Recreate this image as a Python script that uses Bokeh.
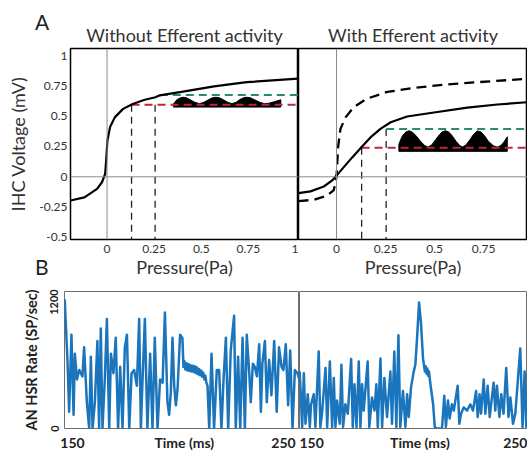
from bokeh.plotting import figure
from bokeh.models import Range1d, FixedTicker, CustomJSTickFormatter, Span, Div
from bokeh.layouts import row, column
from bokeh.embed import file_html
from bokeh.resources import INLINE

# ---------------- Panel A data ----------------
a_xticks = [0, 0.25, 0.5, 0.75, 1]
a_yticks = [-0.5, -0.25, 0, 0.25, 0.5, 0.75, 1]

# Without efferent activity
left_curve_x = [-0.194, -0.12, -0.053, -0.027, -0.01, -0.005, 0.002, 0.016, 0.041, 0.085, 0.136, 0.2, 0.257, 0.28, 0.395, 0.568, 0.741, 1.016]
left_curve_y = [-0.195, -0.17, -0.10, -0.045, 0.025, 0.13, 0.30, 0.41, 0.49, 0.56, 0.60, 0.635, 0.656, 0.672, 0.70, 0.745, 0.78, 0.81]
left_red_level = 0.595
left_teal_level = 0.675
left_red_start = 0.13
left_teal_start = 0.28
left_probe_x = [0.13, 0.255]
left_probe_top = [0.595, 0.595]
left_wave_x = [0.352, 0.37, 0.39, 0.404, 0.42, 0.44, 0.465, 0.49, 0.515, 0.54, 0.56, 0.577, 0.595, 0.615, 0.64, 0.663,
               0.685, 0.705, 0.725, 0.741, 0.76, 0.78, 0.81, 0.836, 0.86, 0.89, 0.922]
left_wave_top = [0.60, 0.635, 0.652, 0.656, 0.652, 0.637, 0.615, 0.603, 0.615, 0.637, 0.652, 0.656, 0.652, 0.637, 0.615, 0.603,
                 0.615, 0.637, 0.652, 0.656, 0.652, 0.637, 0.615, 0.603, 0.607, 0.62, 0.635]
left_wave_base = 0.575

# With efferent activity
right_solid_x = [-0.194, -0.133, -0.065, -0.022, 0.0, 0.037, 0.08, 0.128, 0.173, 0.224, 0.276, 0.36, 0.497, 0.667, 0.82, 0.974]
right_solid_y = [-0.135, -0.12, -0.08, -0.03, 0.01, 0.08, 0.16, 0.245, 0.325, 0.395, 0.45, 0.497, 0.53, 0.57, 0.596, 0.615]
right_dash_x = [-0.194, -0.116, -0.048, -0.014, 0.0, 0.008, 0.02, 0.046, 0.088, 0.156, 0.259, 0.394, 0.547, 0.718, 0.974]
right_dash_y = [-0.20, -0.19, -0.155, -0.11, 0.0, 0.245, 0.395, 0.49, 0.575, 0.645, 0.70, 0.733, 0.76, 0.78, 0.808]
right_red_level = 0.24
right_teal_level = 0.395
right_red_start = 0.128
right_teal_start = 0.253
right_probe_x = [0.128, 0.253]
right_probe_top = [0.24, 0.395]
right_wave_x = [0.318, 0.335, 0.352, 0.369, 0.385, 0.405, 0.43, 0.45, 0.466, 0.485, 0.505, 0.525, 0.54, 0.556, 0.572, 0.59,
                0.61, 0.627, 0.641, 0.66, 0.68, 0.70, 0.718, 0.735, 0.755, 0.775, 0.80, 0.82, 0.84, 0.855, 0.871]
right_wave_top = [0.27, 0.335, 0.368, 0.38, 0.37, 0.34, 0.29, 0.258, 0.245, 0.262, 0.305, 0.348, 0.372, 0.38, 0.37, 0.338,
                  0.292, 0.26, 0.245, 0.262, 0.305, 0.352, 0.378, 0.372, 0.338, 0.292, 0.256, 0.245, 0.26, 0.29, 0.33]
right_wave_base = 0.21

# ---------------- Panel B data ----------------
b_left_t = [146.3, 147.6, 148.4, 149.5, 150.5, 151.1, 152.1, 153.2, 154.7, 155.5, 156.8, 157.9, 158.7, 159.5, 160.6, 161.8,
            162.6, 163.4, 164.2, 165.3, 166.3, 167.4, 168.2, 169.4, 170.5, 171.6, 172.6, 173.7, 174.8, 175.8, 176.9, 178.0,
            179.2, 180.5, 181.6, 182.4, 183.2, 184.3, 185.5, 186.8, 187.9, 189.0, 190.3, 191.5, 192.7, 193.8, 195.0, 195.8,
            196.6, 197.4, 198.2, 199.0, 199.8, 201.0, 202.1, 202.6, 203.0, 203.5, 204.0, 204.5, 205.0, 205.5, 206.0, 206.5,
            207.0, 207.5, 208.0, 208.5, 209.0, 209.5, 210.0, 210.5, 211.0, 211.5, 212.0, 212.5, 213.0, 213.5, 214.0, 214.8,
            215.9, 217.1, 218.4, 219.5, 220.6, 221.6, 222.7, 223.8, 225.0, 226.6, 227.4, 228.5, 229.5, 230.6, 231.7, 232.6,
            233.7, 234.5, 235.5, 236.4, 237.4, 238.5, 239.3, 240.0, 241.2, 242.1, 243.2, 244.3, 245.6, 246.8, 247.9, 249.1,
            250.0, 251.1, 252.2, 253.2, 254.3, 255.4, 256.6, 257.6]
b_left_rate = [1225, 650, 160, 890, 130, 710, 465, 555, 495, 770, 250, 0, 680, 0, 250, 830,
               0, 950, 0, 465, 1040, 0, 710, 525, 860, 0, 585, 0, 770, 890, 0, 525,
               555, 405, 1040, 0, 465, 1040, 0, 710, 0, 860, 0, 465, 435, 1100, 250, 130,
               345, 860, 405, 220, 375, 890, 860, 585, 640, 560, 620, 550, 610, 545, 600, 540,
               595, 535, 590, 525, 580, 515, 565, 505, 550, 490, 530, 465, 500, 430, 405, 0,
               710, 0, 555, 555, 0, 465, 860, 0, 740, 1070, 0, 680, 0, 860, 0, 890,
               555, 250, 615, 585, 495, 800, 160, 615, 830, 250, 650, 315, 830, 160, 770, 585,
               555, 800, 220, 740, 0, 555, 525, 465]

b_right_t = [144.8, 146.0, 146.8, 147.6, 148.7, 149.7, 150.3, 151.6, 152.4, 154.0, 154.8, 155.6, 157.3, 158.1, 159.4, 160.5,
             161.3, 162.1, 162.9, 164.2, 165.0, 165.8, 166.9, 168.1, 169.7, 170.5, 171.3, 172.3, 173.4, 174.2, 175.0, 175.8,
             177.7, 178.5, 179.8, 181.0, 181.9, 182.6, 183.9, 184.7, 185.8, 187.1, 188.7, 189.5, 190.6, 191.6, 192.6, 193.5,
             194.8, 196.0, 196.8, 197.6, 198.7, 200.0, 200.8, 201.6, 202.6, 203.5, 204.5, 205.0, 205.4, 205.8, 206.2, 206.6,
             207.0, 207.4, 207.8, 208.1, 209.4, 210.2, 211.3, 213.7, 214.8, 215.6, 216.6, 217.4, 218.5, 219.4, 221.3, 222.1,
             222.9, 224.2, 225.8, 227.4, 228.7, 230.2, 231.0, 231.9, 232.6, 233.9, 234.7, 235.8, 236.8, 238.7, 239.5, 240.3,
             241.5, 242.4, 243.5, 244.8, 245.9, 246.8, 248.1, 249.2, 251.6, 252.7, 253.7, 254.5, 255.0]
b_right_rate = [540, 15, 525, 45, 325, 15, 230, 325, 15, 730, 15, 140, 575, 15, 635, 15,
                480, 15, 265, 45, 605, 15, 230, 140, 660, 15, 420, 15, 635, 15, 420, 170,
                635, 15, 295, 170, 420, 15, 665, 15, 480, 110, 540, 45, 730, 15, 885, 15,
                355, 15, 325, 110, 390, 540, 605, 850, 1195, 1010, 665, 600, 540, 590, 520, 570,
                500, 540, 470, 420, 230, 15, 0, 0, 310, 15, 265, 95, 230, 170, 405, 45,
                140, 200, 170, 230, 170, 355, 110, 325, 140, 465, 140, 405, 110, 435, 170, 405,
                110, 325, 140, 575, 110, 295, 45, 140, 760, 15, 540, 15, 390]
b_yticks = [0, 1200]
b_xticks = [150, 203, 250]

# ---------------- styles ----------------
FONT = "Lato"
BLUE = "#1b75bc"
RED = "#c0253f"
TEAL = "#2a8a78"
fmt = CustomJSTickFormatter(code="return String(tick);")


def style_a(p):
    p.grid.visible = False
    p.outline_line_color = "black"
    p.outline_line_width = 1.5
    p.axis.axis_line_color = None
    p.axis.major_tick_line_color = None
    p.axis.minor_tick_line_color = None
    p.axis.major_tick_out = 0
    p.axis.major_tick_in = 0
    p.axis.major_label_text_font = FONT
    p.axis.major_label_text_font_size = "12px"
    p.axis.major_label_text_color = "#333333"
    p.axis.axis_label_text_font = FONT
    p.axis.axis_label_text_font_style = "normal"
    p.axis.axis_label_text_font_size = "18px"
    p.axis.axis_label_text_color = "#333333"
    p.title.text_font = FONT
    p.title.text_font_size = "18px"
    p.title.text_font_style = "normal"
    p.title.text_color = "#333333"
    p.title.align = "center"
    p.title.standoff = 5
    p.add_layout(Span(location=0, dimension="height", line_color="#8a8a8a", line_width=1))
    p.add_layout(Span(location=0, dimension="width", line_color="#8a8a8a", line_width=1))


def style_b(p):
    p.grid.visible = False
    p.outline_line_color = "#6e6e6e"
    p.outline_line_width = 1
    p.axis.axis_line_color = None
    p.axis.major_tick_line_color = None
    p.axis.minor_tick_line_color = None
    p.axis.major_tick_out = 0
    p.axis.major_tick_in = 0
    p.axis.major_label_text_font = FONT
    p.axis.major_label_text_font_style = "bold"
    p.axis.major_label_text_color = "#222222"
    p.axis.axis_label_text_font = FONT
    p.axis.axis_label_text_font_style = "bold"
    p.axis.axis_label_text_font_size = "14.5px"
    p.axis.axis_label_text_color = "#222222"


def draw_a(p, red_level, teal_level, red_start, teal_start, x_end, probe_x, probe_top, wave_x, wave_top, wave_base):
    for px, pt in zip(probe_x, probe_top):
        p.line([px, px], [pt, -0.6], line_color="#222222", line_width=1.3, line_dash="7 5")
    p.patch([wave_x[0]] + wave_x + [wave_x[-1]], [wave_base] + wave_top + [wave_base],
            fill_color="black", line_color="black", line_width=1)
    p.line([teal_start, x_end], [teal_level, teal_level], line_color=TEAL, line_width=2, line_dash="8 5")
    p.line([red_start, x_end], [red_level, red_level], line_color=RED, line_width=2, line_dash="8 5")


def panel_letter(text, left, top):
    return Div(text=text, width=20, height=26,
               styles={"position": "absolute", "left": f"{left}px", "top": f"{top}px",
                       "font-family": "Lato", "font-size": "21px", "line-height": "26px",
                       "color": "#222222", "margin": "0", "padding": "0"})


# ---------------- A left ----------------
p1 = figure(width=298, height=280, x_range=Range1d(-0.194, 1.016), y_range=Range1d(-0.517, 1.058),
            output_backend="svg", toolbar_location=None, title="Without Efferent activity",
            min_border_left=70, min_border_right=0, min_border_top=48, min_border_bottom=41)
style_a(p1)
p1.xaxis.ticker = FixedTicker(ticks=a_xticks)
p1.yaxis.ticker = FixedTicker(ticks=a_yticks)
p1.xaxis.formatter = fmt
p1.yaxis.formatter = fmt
p1.xaxis.major_label_standoff = 5
p1.yaxis.major_label_standoff = 3
p1.xaxis.axis_label = "Pressure(Pa)"
p1.xaxis.axis_label_standoff = 0
p1.yaxis.axis_label = "IHC Voltage (mV)"
p1.yaxis.axis_label_standoff = 7
draw_a(p1, left_red_level, left_teal_level, left_red_start, left_teal_start, 1.016,
       left_probe_x, left_probe_top, left_wave_x, left_wave_top, left_wave_base)
p1.line(left_curve_x, left_curve_y, line_color="black", line_width=2.2)

# ---------------- A right ----------------
p2 = figure(width=229, height=280, x_range=Range1d(-0.194, 0.974), y_range=Range1d(-0.517, 1.058),
            output_backend="svg", toolbar_location=None, title="With Efferent activity", y_axis_location=None,
            min_border_left=0, min_border_right=0, min_border_top=48, min_border_bottom=41)
style_a(p2)
p2.xaxis.ticker = FixedTicker(ticks=a_xticks)
p2.xaxis.formatter = fmt
p2.xaxis.major_label_standoff = 5
p2.xaxis.axis_label = "Pressure(Pa)"
p2.xaxis.axis_label_standoff = 0
draw_a(p2, right_red_level, right_teal_level, right_red_start, right_teal_start, 0.974,
       right_probe_x, right_probe_top, right_wave_x, right_wave_top, right_wave_base)
p2.line(right_dash_x, right_dash_y, line_color="black", line_width=2.3, line_dash="10 6")
p2.line(right_solid_x, right_solid_y, line_color="black", line_width=2.2)

# ---------------- B left ----------------
p3 = figure(width=299, height=178, x_range=Range1d(146.2, 257.6), y_range=Range1d(0, 1300),
            output_backend="svg", toolbar_location=None,
            min_border_left=64, min_border_right=0, min_border_top=11, min_border_bottom=27)
style_b(p3)
p3.xaxis.ticker = FixedTicker(ticks=b_xticks)
p3.xaxis.major_label_overrides = {150: "150", 203: "Time (ms)", 250: "250"}
p3.xaxis.major_label_text_font_size = "14px"
p3.xaxis.major_label_standoff = 5
p3.yaxis.ticker = FixedTicker(ticks=b_yticks)
p3.yaxis.major_label_orientation = "vertical"
p3.yaxis.major_label_text_font_size = "11px"
p3.yaxis.major_label_standoff = 6
p3.yaxis.axis_label = "AN HSR Rate (SP/sec)"
p3.yaxis.axis_label_standoff = 8
p3.line(b_left_t, b_left_rate, line_color=BLUE, line_width=2.5, line_join="round")

# ---------------- B right ----------------
p4 = figure(width=228, height=178, x_range=Range1d(144.7, 255.1), y_range=Range1d(0, 1300),
            output_backend="svg", toolbar_location=None, y_axis_location=None,
            min_border_left=0, min_border_right=0, min_border_top=11, min_border_bottom=30)
style_b(p4)
p4.xaxis.ticker = FixedTicker(ticks=b_xticks)
p4.xaxis.major_label_overrides = {150: "150", 203: "Time (ms)", 250: "250"}
p4.xaxis.major_label_text_font_size = "14px"
p4.xaxis.major_label_standoff = 5
p4.line(b_right_t, b_right_rate, line_color=BLUE, line_width=2.5, line_join="round")

layout = column(row(p1, p2), row(p3, p4), panel_letter("A", 35, 9), panel_letter("B", 35, 254))
open("out.html", "w").write(file_html(layout, INLINE))
